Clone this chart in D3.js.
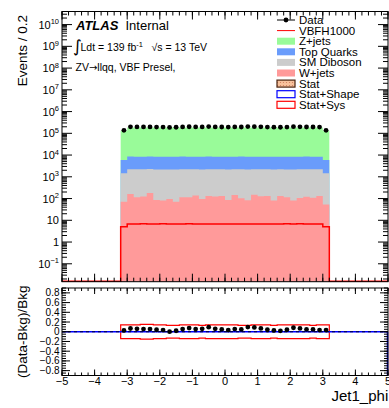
<!DOCTYPE html>
<html>
<head>
<meta charset="utf-8">
<script src="https://cdn.jsdelivr.net/npm/d3@7"></script>
<style>
  body { margin: 0; background: #fff; }
  svg { display: block; font-family: "Liberation Sans", Arial, Helvetica, sans-serif; }
</style>
</head>
<body>
<div id="chart"></div>
<script>
// Binning: 32 bins of width 0.2 starting at -3.2
const binLow = -3.2;
const binWidth = 0.2;

// Background components per bin (events)
const zjets = [127000, 178000, 178000, 178000, 178000, 178000, 178000, 178000,
               178000, 178000, 178000, 178000, 178000, 178000, 178000, 178000,
               178000, 178000, 178000, 178000, 178000, 178000, 178000, 178000,
               178000, 178000, 178000, 178000, 178000, 178000, 178000, 127000];
const topQuarks = [4500, 6300, 6200, 6100, 6300, 6200, 6200, 6100,
                   6200, 6300, 6200, 6100, 6200, 6300, 6200, 6200,
                   6100, 6200, 6300, 6200, 6200, 6100, 6200, 6300,
                   6200, 6200, 6100, 6200, 6300, 6200, 6200, 4500];
const diboson = [1390, 2090, 2100, 2080, 2090, 2100, 2090, 2080,
                 2100, 2090, 2090, 2100, 2080, 2090, 2100, 2090,
                 2080, 2090, 2100, 2090, 2080, 2100, 2090, 2090,
                 2100, 2080, 2090, 2090, 2100, 2090, 2080, 1390];
const wjets = [72, 163, 115, 124, 178, 86, 82, 96,
               71, 115, 115, 138, 96, 132, 124, 132,
               86, 144, 104, 84, 149, 128, 132, 82,
               132, 115, 82, 107, 120, 110, 132, 53];
// Signal VBFH1000 (drawn as a line, not stacked)
const vbfh = [5.1, 6.7, 6.8, 6.9, 6.8, 6.8, 6.9, 6.7,
              6.8, 6.8, 6.9, 6.8, 6.7, 6.8, 6.8, 6.8,
              6.8, 6.7, 6.8, 6.8, 6.8, 6.8, 6.7, 6.8,
              6.8, 6.9, 6.8, 6.9, 6.8, 6.7, 6.8, 5.1];
// Observed data per bin
const data = [136540, 199080, 197770, 196650, 196650, 194040, 192740, 186400,
              190130, 196650, 200380, 196650, 197770, 204110, 197770, 195350,
              192740, 196650, 195350, 204110, 202990, 199080, 194040, 191430,
              190130, 194040, 201680, 199080, 195350, 195350, 192740, 137470];
// Relative stat+sys uncertainty per bin (ratio panel band)
const statSysErr = [0.14, 0.14, 0.14, 0.15, 0.15, 0.14, 0.14, 0.13,
                    0.13, 0.14, 0.14, 0.14, 0.13, 0.14, 0.14, 0.14,
                    0.14, 0.14, 0.13, 0.13, 0.14, 0.14, 0.14, 0.13,
                    0.14, 0.14, 0.14, 0.14, 0.14, 0.13, 0.14, 0.14];

// Tick values / labels
const xMajorTicks = [-5, -4, -3, -2, -1, 0, 1, 2, 3, 4, 5];
const yMainExponents = [-1, 0, 1, 2, 3, 4, 5, 6, 7, 8, 9, 10];
const ratioTicks = [-0.8, -0.6, -0.4, -0.2, 0, 0.2, 0.4, 0.6, 0.8];

// Legend entries
const legendLabels = ["Data", "VBFH1000", "Z+jets", "Top Quarks", "SM Diboson",
                      "W+jets", "Stat", "Stat+Shape", "Stat+Sys"];

const W = 389, H = 408;
const svg = d3.select("#chart").append("svg")
  .attr("width", W).attr("height", H);

const defs = svg.append("defs");
const pat = defs.append("pattern").attr("id", "statDots")
  .attr("width", 3).attr("height", 3).attr("patternUnits", "userSpaceOnUse");
pat.append("rect").attr("width", 3).attr("height", 3).attr("fill", "#f8c29c");
pat.append("circle").attr("cx", 1.5).attr("cy", 1.5).attr("r", 0.6).attr("fill", "#d07a5a");

// Scales
const x = d3.scaleLinear().domain([-5, 5]).range([62, 388]);
const y = d3.scaleLog().domain([0.015, 4e10]).range([281.7, 11.5]).clamp(true);
const yr = d3.scaleLinear().domain([-0.9, 0.9]).range([375.5, 288]);
const yBottom = y.range()[0];

// Bin objects
const bins = zjets.map((z, i) => ({
  lo: binLow + i * binWidth,
  hi: binLow + (i + 1) * binWidth,
  z: z, top: topQuarks[i], dib: diboson[i], w: wjets[i],
  sig: vbfh[i], data: data[i], err: statSysErr[i]
}));
bins.forEach(b => {
  b.bkg = b.z + b.top + b.dib + b.w;
  b.ratio = (b.data - b.bkg) / b.bkg;
});
// extra point closing the last step
const stepPts = bins.concat([Object.assign({}, bins[bins.length - 1], { lo: bins[bins.length - 1].hi })]);

// ---------- main panel ----------
const main = svg.append("g");

// Stack layers drawn from the total downwards (like THStack)
const layers = [
  { color: "#99fb99", top: d => d.w + d.dib + d.top + d.z },
  { color: "#6a9cfb", top: d => d.w + d.dib + d.top },
  { color: "#cccccc", top: d => d.w + d.dib },
  { color: "#ff9a9a", top: d => d.w }
];
layers.forEach(l => {
  main.append("path")
    .datum(stepPts)
    .attr("fill", l.color)
    .attr("d", d3.area().curve(d3.curveStepAfter)
      .x(d => x(d.lo)).y0(yBottom).y1(d => y(l.top(d))));
});

// Signal line, zero outside the histogram range
const sigPts = [{ lo: -5, sig: 0 }].concat(bins.map(b => ({ lo: b.lo, sig: b.sig })))
  .concat([{ lo: 3.2, sig: 0 }, { lo: 5, sig: 0 }]);
main.append("path")
  .datum(sigPts)
  .attr("fill", "none").attr("stroke", "#ff0000").attr("stroke-width", 1.5)
  .attr("d", d3.line().curve(d3.curveStepAfter)
    .x(d => x(d.lo)).y(d => d.sig > 0 ? y(d.sig) : yBottom - 0.5));

// Data points
main.selectAll("circle.data").data(bins).join("circle")
  .attr("class", "data")
  .attr("cx", d => x((d.lo + d.hi) / 2))
  .attr("cy", d => y(d.data))
  .attr("r", 2.4).attr("fill", "black");

// Tick helper (inward ticks)
function ticks(g, vals, scale, horizontal, fixed, len) {
  g.append("g").selectAll("line").data(vals).join("line")
    .attr("x1", d => horizontal ? scale(d) : fixed)
    .attr("x2", d => horizontal ? scale(d) : fixed + len)
    .attr("y1", d => horizontal ? fixed : scale(d))
    .attr("y2", d => horizontal ? fixed + len : scale(d))
    .attr("stroke", "black").attr("stroke-width", 1);
}

const xMinorTicks = d3.range(-25, 26).map(i => i / 5);
const [yMin, yMax] = y.domain();
const logMinor = d3.range(-2, 11).flatMap(e => d3.range(2, 10).map(m => m * Math.pow(10, e)))
  .filter(v => v > yMin && v < yMax);
const logMajor = yMainExponents.map(e => Math.pow(10, e));

// Main frame
main.append("rect").attr("x", x(-5)).attr("y", y.range()[1])
  .attr("width", x(5) - x(-5)).attr("height", yBottom - y.range()[1])
  .attr("fill", "none").attr("stroke", "black");
ticks(main, xMinorTicks, x, true, yBottom, -4);
ticks(main, xMajorTicks, x, true, yBottom, -8);
ticks(main, xMinorTicks, x, true, y.range()[1], 4);
ticks(main, xMajorTicks, x, true, y.range()[1], 8);
ticks(main, logMinor, y, false, x(-5), 5);
ticks(main, logMajor, y, false, x(-5), 10);
ticks(main, logMinor, y, false, x(5), -5);
ticks(main, logMajor, y, false, x(5), -10);

// Log-axis labels
const yLab = main.append("g").selectAll("text").data(yMainExponents).join("text")
  .attr("x", 59).attr("y", e => y(Math.pow(10, e)) + 4)
  .attr("text-anchor", "end").attr("font-size", 11);
yLab.each(function (e) {
  const t = d3.select(this);
  if (e === 0) { t.text("1"); return; }
  if (e === 1) { t.text("10"); return; }
  t.append("tspan").text("10");
  t.append("tspan").attr("dy", -4.5).attr("font-size", 7.5)
    .text(e < 0 ? "\u2212" + (-e) : e);
});

main.append("text")
  .attr("transform", `translate(27,15) rotate(-90)`)
  .attr("text-anchor", "end").attr("font-size", 13.5)
  .text("Events / 0.2");

// ATLAS label and selection text
const lab = main.append("g");
lab.append("text").attr("x", 76).attr("y", 30)
  .attr("font-size", 13).attr("font-weight", "bold").attr("font-style", "italic")
  .text("ATLAS");
lab.append("text").attr("x", 125.5).attr("y", 30).attr("font-size", 13).text("Internal");
lab.append("text").attr("x", 73).attr("y", 52).attr("font-size", 17)
  .attr("font-family", "DejaVu Sans").text("\u222B");
const lumi = lab.append("text").attr("x", 80.5).attr("y", 50.5).attr("font-size", 10.5);
lumi.append("tspan").text("Ldt = 139 fb");
lumi.append("tspan").attr("dy", -4).attr("font-size", 7.5).text("-1");
lab.append("text").attr("x", 151.5).attr("y", 50.5).attr("font-size", 10.5).text("\u221As = 13 TeV");
const sel = lab.append("text").attr("x", 75.5).attr("y", 70.5).attr("font-size", 10.5);
sel.append("tspan").text("ZV");
sel.append("tspan").attr("font-family", "DejaVu Sans").attr("font-size", 10).text("\u2192");
sel.append("tspan").text("llqq, VBF Presel,");

// Legend
const leg = main.append("g");
const legY = i => 20 + i * 10.6;
const sx0 = 277, sx1 = 295;
leg.selectAll("text").data(legendLabels).join("text")
  .attr("x", 299).attr("y", (d, i) => legY(i) + 4)
  .attr("font-size", 11.5).text(d => d);
// Data marker
leg.append("line").attr("x1", sx0).attr("x2", sx1).attr("y1", legY(0)).attr("y2", legY(0))
  .attr("stroke", "black");
leg.append("circle").attr("cx", (sx0 + sx1) / 2).attr("cy", legY(0)).attr("r", 2.4);
// Signal line
leg.append("line").attr("x1", sx0).attr("x2", sx1).attr("y1", legY(1)).attr("y2", legY(1))
  .attr("stroke", "#ff0000");
// Fill boxes
const legBoxes = [
  { i: 2, fill: "#99fb99", stroke: "none" },
  { i: 3, fill: "#6a9cfb", stroke: "none" },
  { i: 4, fill: "#cccccc", stroke: "none" },
  { i: 5, fill: "#ff9a9a", stroke: "none" },
  { i: 6, fill: "url(#statDots)", stroke: "#4a2410" },
  { i: 7, fill: "white", stroke: "#0000ff" },
  { i: 8, fill: "white", stroke: "#ff0000" }
];
leg.selectAll("rect").data(legBoxes).join("rect")
  .attr("x", sx0).attr("y", d => legY(d.i) - 3.5)
  .attr("width", sx1 - sx0).attr("height", 7)
  .attr("fill", d => d.fill).attr("stroke", d => d.stroke)
  .attr("stroke-width", d => d.stroke === "none" ? 0 : 1.2);

// ---------- ratio panel ----------
const rp = svg.append("g");

// Stat+Sys band
rp.append("path")
  .datum(stepPts)
  .attr("fill", "white").attr("stroke", "#ff0000").attr("stroke-width", 1.2)
  .attr("d", d3.area().curve(d3.curveStepAfter)
    .x(d => x(d.lo)).y0(d => yr(-d.err)).y1(d => yr(d.err)));

// Stat+Shape (very thin) and reference line at zero
rp.append("line").attr("x1", x(-5)).attr("x2", x(5)).attr("y1", yr(0)).attr("y2", yr(0))
  .attr("stroke", "#0000ff").attr("stroke-width", 1.5);
rp.append("line").attr("x1", x(-5)).attr("x2", x(5)).attr("y1", yr(0)).attr("y2", yr(0))
  .attr("stroke", "#000033").attr("stroke-width", 1).attr("stroke-dasharray", "3,3");
rp.append("line").attr("x1", x(5) - 0.5).attr("x2", x(5) - 0.5).attr("y1", yr(0)).attr("y2", yr(-0.9))
  .attr("stroke", "#0000ff").attr("stroke-width", 1.5);

// Ratio points
rp.selectAll("circle").data(bins).join("circle")
  .attr("cx", d => x((d.lo + d.hi) / 2))
  .attr("cy", d => yr(d.ratio))
  .attr("r", 2.4).attr("fill", "black");

// Ratio frame and ticks
const [rBot, rTop] = yr.range();
rp.append("rect").attr("x", x(-5)).attr("y", rTop)
  .attr("width", x(5) - x(-5)).attr("height", rBot - rTop)
  .attr("fill", "none").attr("stroke", "black");
const ratioMinor = d3.range(-18, 19).map(i => i / 20);
ticks(rp, xMinorTicks, x, true, rBot, -3);
ticks(rp, xMajorTicks, x, true, rBot, -6);
ticks(rp, xMinorTicks, x, true, rTop, 3);
ticks(rp, xMajorTicks, x, true, rTop, 6);
ticks(rp, ratioMinor, yr, false, x(-5), 4);
ticks(rp, ratioTicks, yr, false, x(-5), 8);
ticks(rp, ratioMinor, yr, false, x(5), -4);
ticks(rp, ratioTicks, yr, false, x(5), -8);

const fmtMinus = s => s.replace("-", "\u2212");
rp.append("g").selectAll("text").data(ratioTicks).join("text")
  .attr("x", 59.5).attr("y", d => yr(d) + 3.5)
  .attr("text-anchor", "end").attr("font-size", 10)
  .text(d => d === 0 ? "0" : fmtMinus(d3.format(".1f")(d)));
rp.append("g").selectAll("text").data(xMajorTicks).join("text")
  .attr("x", d => x(d)).attr("y", 385)
  .attr("text-anchor", "middle").attr("font-size", 11)
  .text(d => fmtMinus(String(d)));

rp.append("text")
  .attr("transform", `translate(27,${(rTop + rBot) / 2}) rotate(-90)`)
  .attr("text-anchor", "middle").attr("font-size", 13.5)
  .text("(Data-Bkg)/Bkg");
rp.append("text").attr("x", 331.5).attr("y", 401)
  .attr("font-size", 15).text("Jet1_phi");
</script>
</body>
</html>
